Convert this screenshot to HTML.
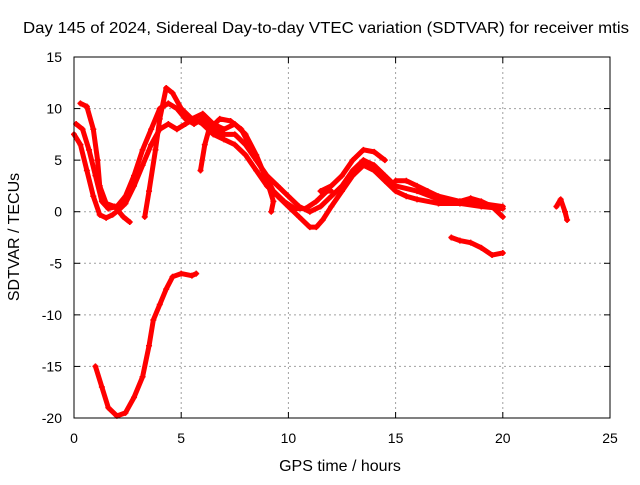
<!DOCTYPE html>
<html><head><meta charset="utf-8"><style>
body{margin:0;background:#fff}
svg text{font-family:"Liberation Sans",sans-serif;font-size:14px;fill:#000}
</style></head><body>
<svg width="640" height="480" xmlns="http://www.w3.org/2000/svg">
<rect width="640" height="480" fill="#fff"/>
<text x="326" y="33" text-anchor="middle" style="font-size:16px" textLength="606" lengthAdjust="spacingAndGlyphs">Day 145 of 2024, Sidereal Day-to-day VTEC variation (SDTVAR) for receiver mtis</text>
<g id="grid"></g>
<g id="axes"></g>
<g id="series"></g>
<rect x="74" y="57" width="536" height="361" fill="none" stroke="#000"/>
<text x="340" y="471" text-anchor="middle" style="font-size:16px">GPS time / hours</text>
<text transform="translate(19,237) rotate(-90)" text-anchor="middle" style="font-size:16px">SDTVAR / TECUs</text>
</svg>
<script>
const xTicks=[0,5,10,15,20,25];
const yTicks=[-20,-15,-10,-5,0,5,10,15];
const s1=[[0,7.5],[0.3,6.5],[0.6,4],[0.9,1.5],[1.2,-0.3],[1.5,-0.6],[1.8,-0.3],[2.1,0.2],[2.4,0.8],[2.8,2.5],[3.2,4.5],[3.6,6.5],[4,8],[4.4,8.5],[4.8,8],[5.2,8.5],[5.6,9],[6,8.5],[6.5,7.5],[7,7],[7.5,6.5],[8,5.5],[8.5,4],[9,2.5],[9.5,1.5],[10,0.5],[10.5,-0.5],[11,-1.5],[11.3,-1.5],[11.6,-0.8],[12,0.5],[12.5,2],[13,3.5],[13.5,4.5],[14,4],[14.5,3],[15,2],[15.5,1.5],[16,1.2],[17,0.8],[18,0.8],[19,0.5],[20,0.3]];
const s2=[[0.1,8.5],[0.4,8],[0.7,6],[1,3.5],[1.3,1],[1.6,0.3],[2,0.5],[2.4,1.5],[2.8,3.5],[3.2,6],[3.6,8],[4,10],[4.4,10.5],[4.8,10],[5.2,9],[5.6,8.5],[6,9],[6.5,8],[7,7.5],[7.5,7.5],[8,6.5],[8.5,5],[9,3.5],[9.5,2.5],[10,1.5],[10.5,0.5],[11,0],[11.5,0.5],[12,1.5],[12.5,2.5],[13,4],[13.5,5],[14,4.5],[14.5,3.5],[15,2.5],[16,2],[17,1.2],[18,1],[19,0.8],[20,0.5]];
const s3=[[0.3,10.5],[0.6,10.2],[0.9,8],[1.1,5],[1.2,2.5],[1.5,0.8],[1.9,0.5],[2.3,-0.5],[2.6,-1]];
const s4=[[3.3,-0.5],[3.5,2],[3.8,6],[4,9],[4.3,12],[4.6,11.5],[5,10],[5.5,9],[6,9.5],[6.5,8.5],[7,8],[7.5,8.5],[8,7.5],[8.5,5.5],[9,3],[9.3,1],[9.2,0]];
const s5=[[5.9,4],[6.1,6.5],[6.3,8],[6.8,9],[7.3,8.8],[7.8,8],[8.3,6],[8.8,4],[9.3,2],[9.8,1],[10.3,0.3],[10.8,0.3],[11.3,1],[11.8,2],[12,2]];
const s6=[[11.5,2],[12,2.5],[12.5,3.5],[13,5],[13.5,6],[14,5.8],[14.5,5]];
const s7=[[15,3],[15.5,3],[16,2.5],[16.5,2],[17,1.5],[18,1],[18.5,1.3],[19,1],[19.5,0.5],[20,-0.5]];
const s8=[[17.6,-2.5],[18,-2.8],[18.5,-3],[19,-3.5],[19.5,-4.2],[20,-4]];
const s9=[[22.5,0.5],[22.7,1.2],[22.9,0],[23,-0.8]];
const s10=[[1,-15],[1.3,-17],[1.6,-19],[2,-19.8],[2.4,-19.5],[2.8,-18],[3.2,-16],[3.5,-13],[3.7,-10.5],[4,-9],[4.3,-7.5],[4.6,-6.3],[5,-6],[5.5,-6.2],[5.7,-6]];
const allSeries=[s1,s2,s3,s4,s5,s6,s7,s8,s9,s10];
const X=v=>74+v*536/25, Y=v=>57+(15-v)*361/35;
const NS="http://www.w3.org/2000/svg";
function mk(t,a,p){const e=document.createElementNS(NS,t);for(const k in a)e.setAttribute(k,a[k]);p.appendChild(e);return e;}
const grid=document.getElementById('grid'),axes=document.getElementById('axes'),ser=document.getElementById('series');
xTicks.forEach(t=>{
 if(t>0&&t<25){const g=mk('line',{x1:X(t),x2:X(t),y1:57,y2:418,stroke:'#a0a0a0','stroke-dasharray':'2,3'},grid);}
 mk('line',{x1:X(t),x2:X(t),y1:418,y2:412,stroke:'#000'},axes);mk('line',{x1:X(t),x2:X(t),y1:57,y2:63,stroke:'#000'},axes);
 const l=mk('text',{x:X(t),y:443,'text-anchor':'middle'},axes);l.textContent=t;
 
 
});
yTicks.forEach(t=>{
 if(t>-20&&t<15){const g=mk('line',{x1:74,x2:610,y1:Y(t),y2:Y(t),stroke:'#a0a0a0','stroke-dasharray':'2,3'},grid);}
 mk('line',{x1:74,x2:80,y1:Y(t),y2:Y(t),stroke:'#000'},axes);mk('line',{x1:604,x2:610,y1:Y(t),y2:Y(t),stroke:'#000'},axes);
 const l=mk('text',{x:62,y:Y(t)+5,'text-anchor':'end'},axes);l.textContent=t;
 
 
});
allSeries.forEach((s,i)=>{
 const p=mk('polyline',{points:s.map(d=>X(d[0])+','+Y(d[1])).join(' '),fill:'none',stroke:'#f00','stroke-width':5,'stroke-linejoin':'round','stroke-linecap':'round'},ser);
 
 
 s.forEach(d=>{const m=mk('path',{d:`M${X(d[0])-3},${Y(d[1])}h6M${X(d[0])},${Y(d[1])-3}v6`,stroke:'#f00','stroke-width':1.5},ser);
 
 });
});
</script>
</body></html>
